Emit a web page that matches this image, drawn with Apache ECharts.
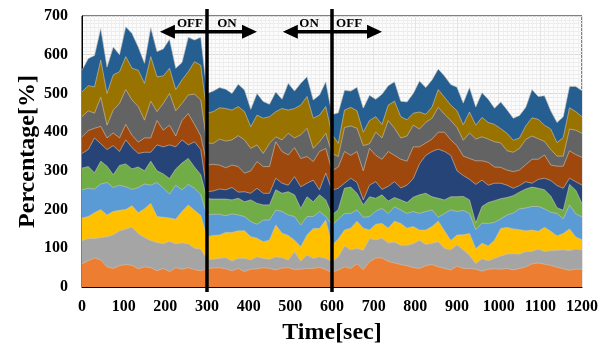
<!DOCTYPE html>
<html>
<head>
<meta charset="utf-8">
<title>Percentage[%] over Time[sec]</title>
<script src="https://cdn.jsdelivr.net/npm/echarts@6/dist/echarts.min.js"></script>
<style>
html, body { margin: 0; padding: 0; background: #fff; }
#chart { width: 608px; height: 349px; }
</style>
</head>
<body>
<div id="chart"></div>
<script>
// sample times (sec)
const times = [0, 15, 30, 45, 60, 75, 90, 105, 120, 135, 150, 165, 180, 195, 210, 225, 240, 255, 270, 285, 300,
  315, 330, 345, 360, 375, 390, 405, 420, 435, 450, 465, 480, 495, 510, 525, 540, 555, 570, 585, 600,
  615, 630, 645, 660, 675, 690, 705, 720, 735, 750, 765, 780, 795, 810, 825, 840, 855, 870, 885, 900,
  915, 930, 945, 960, 975, 990, 1005, 1020, 1035, 1050, 1065, 1080, 1095, 1110, 1125, 1140, 1155, 1170, 1185, 1200];

// stacked layers, bottom to top (percentage of each part)
const layer1 = [60, 68, 75, 70, 52, 48, 55, 58, 56, 47, 52, 50, 42, 48, 40, 50, 46, 50, 45, 42, 48,
  49, 50, 47, 42, 48, 40, 46, 47, 50, 48, 44, 49, 50, 45, 46, 48, 48, 51, 45, 38,
  44, 52, 48, 60, 45, 65, 75, 75, 66, 62, 58, 55, 50, 48, 55, 58, 52, 48, 44, 54,
  48, 48, 46, 41, 46, 47, 46, 48, 44, 48, 52, 60, 62, 59, 56, 51, 47, 43, 46, 46];
const layer2 = [60, 57, 50, 58, 78, 87, 90, 92, 99, 91, 76, 70, 73, 64, 78, 62, 68, 62, 55, 56, 24,
  23, 24, 29, 25, 26, 34, 24, 31, 24, 24, 34, 27, 20, 46, 21, 35, 26, 27, 29, 27,
  34, 54, 48, 40, 50, 60, 47, 51, 48, 54, 50, 53, 62, 73, 55, 55, 65, 52, 52, 55,
  48, 34, 15, 32, 22, 27, 34, 37, 42, 37, 40, 32, 36, 33, 38, 44, 49, 51, 52, 50];
const layer3 = [58, 57, 67, 72, 56, 60, 53, 50, 55, 54, 74, 96, 67, 68, 60, 63, 81, 100, 98, 87, 58,
  61, 60, 65, 74, 71, 71, 60, 48, 43, 49, 82, 63, 63, 30, 37, 51, 77, 73, 99, 43,
  46, 41, 56, 70, 57, 22, 40, 38, 38, 54, 56, 44, 44, 26, 37, 43, 53, 45, 24, 25,
  39, 56, 38, 40, 38, 47, 71, 69, 64, 63, 53, 55, 46, 62, 50, 37, 42, 56, 31, 26];
const layer4 = [73, 73, 61, 66, 84, 62, 65, 59, 42, 65, 64, 47, 88, 76, 62, 88, 56, 53, 57, 54, 56,
  55, 54, 43, 48, 41, 37, 39, 36, 56, 52, 39, 56, 53, 61, 56, 48, 31, 44, 9, 52,
  51, 43, 38, 29, 28, 35, 34, 39, 38, 37, 35, 38, 39, 43, 48, 43, 10, 45, 79, 61,
  63, 52, 49, 52, 58, 46, 25, 32, 41, 54, 59, 61, 64, 48, 49, 58, 38, 62, 60, 59];
const layer5 = [56, 56, 42, 59, 42, 33, 51, 59, 53, 53, 34, 62, 30, 36, 40, 42, 69, 67, 55, 51, 42,
  39, 39, 43, 36, 43, 38, 56, 54, 39, 39, 52, 47, 60, 56, 43, 51, 38, 43, 43, 26,
  25, 65, 68, 43, 32, 51, 33, 35, 32, 24, 26, 28, 37, 48, 47, 34, 49, 35, 34, 38,
  36, 35, 17, 43, 54, 56, 52, 45, 45, 43, 49, 50, 47, 49, 42, 15, 22, 53, 61, 34];
const layer6 = [38, 44, 90, 45, 43, 75, 36, 62, 55, 35, 48, 23, 67, 70, 87, 57, 60, 35, 65, 65, 18,
  21, 26, 24, 32, 16, 26, 17, 39, 30, 30, 30, 26, 17, 47, 56, 35, 56, 13, 69, 64,
  55, 13, 23, 28, 13, 30, 43, 14, 38, 41, 31, 45, 48, 80, 98, 117, 127, 125, 107, 67,
  54, 53, 100, 68, 45, 45, 40, 32, 19, 17, 19, 10, 23, 30, 40, 57, 57, 16, 22, 48];
const layer7 = [43, 49, 25, 45, 30, 33, 35, 40, 32, 29, 37, 37, 63, 43, 51, 28, 50, 81, 45, 35, 69,
  69, 62, 57, 58, 66, 48, 58, 69, 69, 69, 94, 82, 78, 75, 73, 69, 48, 99, 64, 50,
  55, 82, 59, 80, 75, 95, 68, 78, 90, 68, 74, 62, 82, 44, 32, 32, 44, 50, 40, 65,
  50, 54, 61, 50, 59, 42, 41, 39, 43, 40, 44, 62, 52, 60, 40, 50, 57, 71, 70, 72];
const layer8 = [52, 51, 39, 75, 33, 59, 89, 90, 91, 92, 46, 95, 23, 69, 82, 65, 44, 48, 78, 93, 57,
  54, 67, 69, 65, 80, 86, 58, 43, 34, 60, 13, 30, 56, 25, 61, 73, 34, 25, 39, 45,
  27, 62, 76, 60, 65, 12, 60, 55, 80, 70, 55, 65, 56, 46, 53, 54, 64, 46, 50, 47,
  41, 66, 56, 62, 60, 65, 63, 50, 50, 56, 65, 60, 53, 35, 40, 26, 26, 56, 63, 62];
const layer9 = [64, 65, 68, 96, 82, 91, 82, 85, 82, 94, 95, 115, 90, 71, 65, 55, 61, 60, 84, 90, 77,
  82, 81, 84, 77, 75, 73, 56, 77, 91, 69, 65, 81, 60, 76, 77, 82, 78, 69, 69, 50,
  34, 45, 48, 45, 35, 60, 40, 35, 40, 70, 55, 42, 31, 44, 21, 29, 46, 44, 40, 43,
  40, 54, 36, 50, 43, 45, 37, 45, 31, 27, 35, 47, 50, 42, 53, 35, 48, 55, 48, 43];
const layer10 = [56, 70, 81, 82, 68, 72, 44, 77, 90, 60, 52, 75, 65, 70, 75, 55, 45, 89, 56, 72, 51,
  53, 52, 50, 43, 58, 56, 45, 56, 43, 32, 51, 24, 69, 45, 56, 51, 47, 52, 64, 50,
  79, 51, 42, 61, 62, 65, 45, 78, 50, 50, 40, 46, 51, 80, 69, 70, 53, 55, 53, 61,
  56, 63, 47, 64, 60, 42, 69, 61, 57, 58, 48, 73, 59, 76, 47, 52, 54, 55, 65, 67];

const layers = [layer1, layer2, layer3, layer4, layer5, layer6, layer7, layer8, layer9, layer10];
const layerNames = ['1', '2', '3', '4', '5', '6', '7', '8', '9', '10'];
const colors = ['#ED7D31', '#A5A5A5', '#FFC000', '#5B9BD5', '#70AD47',
  '#264478', '#9E480E', '#636363', '#997300', '#255E91'];

// switching marks (sec) and the OFF / ON annotations
const switchTimes = [300, 600];
const arrowSpans = [[187, 420], [482, 720]];
const arrowLevel = 659;
const phaseLabels = [
  { text: 'OFF', at: 259 },
  { text: 'ON', at: 348 },
  { text: 'ON', at: 545 },
  { text: 'OFF', at: 641 }
];
const labelLevel = 679;

const font = '"Liberation Serif", "Times New Roman", serif';

// running totals of the layers: each band is drawn from 0 up to its cumulative top,
// highest band first so the lower ones paint over it (same look as a stacked area)
const tops = [];
layers.forEach((vals, k) => {
  tops.push(vals.map((v, i) => v + (k > 0 ? tops[k - 1][i] : 0)));
});

let myChart = echarts.init(document.getElementById('chart'));

let option = {
  animation: false,
  grid: {
    left: 82,
    right: 26,
    top: 16,
    bottom: 62,
    outerBoundsMode: 'none',
    show: true,
    borderColor: '#000',
    borderWidth: 1,
    backgroundColor: '#fcfcfc'
  },
  xAxis: {
    type: 'value',
    min: 0,
    max: 1200,
    interval: 100,
    name: 'Time[sec]',
    nameLocation: 'middle',
    nameGap: 34,
    nameMoveOverlap: false,
    nameTextStyle: { fontFamily: font, fontWeight: 'bold', fontSize: 24, color: '#000' },
    axisLine: { show: true, lineStyle: { color: '#000', width: 1 } },
    axisTick: { show: false },
    axisLabel: {
      fontFamily: font, fontWeight: 'bold', fontSize: 16, color: '#000', margin: 12,
      formatter: v => String(v)
    },
    splitLine: { show: true, lineStyle: { color: '#e4e4e4' } },
    minorTick: { show: false, splitNumber: 10 },
    minorSplitLine: { show: true, lineStyle: { color: '#efefef' } }
  },
  yAxis: {
    type: 'value',
    min: 0,
    max: 700,
    interval: 100,
    name: 'Percentage[%]',
    nameLocation: 'middle',
    nameGap: 42,
    nameMoveOverlap: false,
    nameTextStyle: { fontFamily: font, fontWeight: 'bold', fontSize: 24, color: '#000' },
    axisLine: { show: true, lineStyle: { color: '#000', width: 1 } },
    axisTick: { show: false },
    axisLabel: { fontFamily: font, fontWeight: 'bold', fontSize: 16, color: '#000', margin: 14 },
    splitLine: { show: true, lineStyle: { color: '#d9d9d9' } },
    minorTick: { show: false, splitNumber: 10 },
    minorSplitLine: { show: true, lineStyle: { color: '#ececec' } }
  },
  series: layers.map((vals, k) => k).reverse().map(k => ({
    name: layerNames[k],
    type: 'line',
    symbol: 'none',
    smooth: false,
    lineStyle: { width: 0.6, color: '#cfc6b6' },
    areaStyle: { color: colors[k], opacity: 1 },
    data: times.map((t, i) => [t, tops[k][i]])
  }))
};
myChart.setOption(option);

// annotations placed through the chart's own scales
function drawMarks() {
  const toPx = (x, y) => myChart.convertToPixel({ gridIndex: 0 }, [x, y]);
  const top = toPx(0, 700)[1];
  const bottom = toPx(0, 0)[1];
  const els = [];
  switchTimes.forEach(t => {
    const x = toPx(t, 0)[0];
    els.push({
      type: 'line', z: 100,
      shape: { x1: x, y1: top - 7, x2: x, y2: bottom + 5 },
      style: { stroke: '#000', lineWidth: 3.5 }
    });
  });
  arrowSpans.forEach(span => {
    const a = toPx(span[0], arrowLevel);
    const b = toPx(span[1], arrowLevel);
    const y = a[1];
    els.push({
      type: 'line', z: 100,
      shape: { x1: a[0] + 10, y1: y, x2: b[0] - 10, y2: y },
      style: { stroke: '#000', lineWidth: 3.5 }
    });
    els.push({
      type: 'polygon', z: 100,
      shape: { points: [[a[0], y], [a[0] + 15, y - 7], [a[0] + 15, y + 7]] },
      style: { fill: '#000' }
    });
    els.push({
      type: 'polygon', z: 100,
      shape: { points: [[b[0], y], [b[0] - 15, y - 7], [b[0] - 15, y + 7]] },
      style: { fill: '#000' }
    });
  });
  phaseLabels.forEach(l => {
    const p = toPx(l.at, labelLevel);
    els.push({
      type: 'text', z: 101,
      x: p[0], y: p[1],
      style: {
        text: l.text, fill: '#000',
        font: 'bold 13px ' + font,
        align: 'center', verticalAlign: 'middle'
      }
    });
  });
  myChart.setOption({ graphic: els });
}
drawMarks();

window.addEventListener('resize', function () {
  myChart.resize();
  drawMarks();
});
</script>
</body>
</html>
